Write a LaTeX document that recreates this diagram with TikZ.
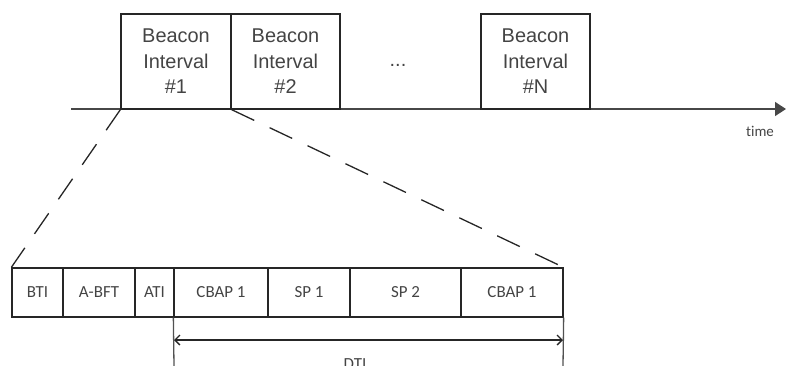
\documentclass[tikz,border=0pt]{standalone}
\usepackage{fontspec}
\setmainfont{Liberation Sans}
\newfontfamily\cellfont[Ligatures=NoCommon]{Carlito}
\usetikzlibrary{arrows.meta}
\definecolor{txt}{HTML}{444444}
\definecolor{ln}{HTML}{262626}
\tikzset{
  bibox/.style={draw=ln, line width=1.3bp, minimum width=110bp, minimum height=95bp,
    inner sep=0pt, align=center, text=txt, font=\fontsize{20}{25.5}\selectfont},
  cell/.style={draw=ln, line width=1.3bp, minimum height=49bp, inner sep=0pt,
    text=txt, font=\cellfont\fontsize{17}{20}\selectfont},
  zoomline/.style={draw=ln, line width=1.3bp, dash pattern=on 25bp off 17bp},
  dimline/.style={draw=ln!80, line width=1.3bp},
  lbl/.style={text=txt, inner sep=0pt}
}
\begin{document}
\begin{tikzpicture}[x=1bp,y=-1bp]
\useasboundingbox (0,0) rectangle (786,365);
% timeline
\coordinate (tl) at (71,109);
\coordinate (tr) at (786,109);
\draw[draw=ln!85, line width=1.3bp, -{Triangle[length=11bp,width=14bp]}] (tl) -- (tr);
\node[lbl, font=\cellfont\fontsize{15}{18}\selectfont, anchor=base] (time) at (760,136) {time};
% beacon interval boxes
\node[bibox] (b1) at (176,61.5) {Beacon\\Interval\\\#1};
\node[bibox, minimum width=109bp] (b2) at (285.5,61.5) {Beacon\\Interval\\\#2};
\node[lbl, font=\fontsize{20}{25.5}\selectfont] (dots) at (398,65) {...};
\node[bibox, minimum width=109bp] (bn) at (535.5,61.5) {Beacon\\Interval\\\#N};
% bottom cells
\node[cell, minimum width=51bp] (bti) at (37.5,292.5) {BTI};
\node[cell, minimum width=72bp] (abft) at (99,292.5) {A-BFT};
\node[cell, minimum width=39bp] (ati) at (154.5,292.5) {ATI};
\node[cell, minimum width=94bp] (cbapa) at (221,292.5) {CBAP 1};
\node[cell, minimum width=82bp] (sp1) at (309,292.5) {SP 1};
\node[cell, minimum width=111bp] (sp2) at (405.5,292.5) {SP 2};
\node[cell, minimum width=102bp] (cbapb) at (512,292.5) {CBAP 1};
% zoom lines
\draw[zoomline] (b1.south west) -- (bti.north west);
\draw[zoomline] (b1.south east) -- (cbapb.north east);
% DTI dimension
\coordinate (dl) at (174,366);
\coordinate (dr) at (563,366);
\coordinate (al) at (174,340);
\coordinate (ar) at (563,340);
\draw[dimline] (cbapa.south west) -- (dl);
\draw[dimline] (cbapb.south east) -- (dr);
\draw[draw=ln, line width=1.3bp, {Straight Barb[length=5bp,width=10bp]}-{Straight Barb[length=5bp,width=10bp]}] (al) -- (ar);
\node[lbl, font=\cellfont\fontsize{17}{20}\selectfont, anchor=base] (dti) at (355,369) {DTI};
\end{tikzpicture}
\end{document}
